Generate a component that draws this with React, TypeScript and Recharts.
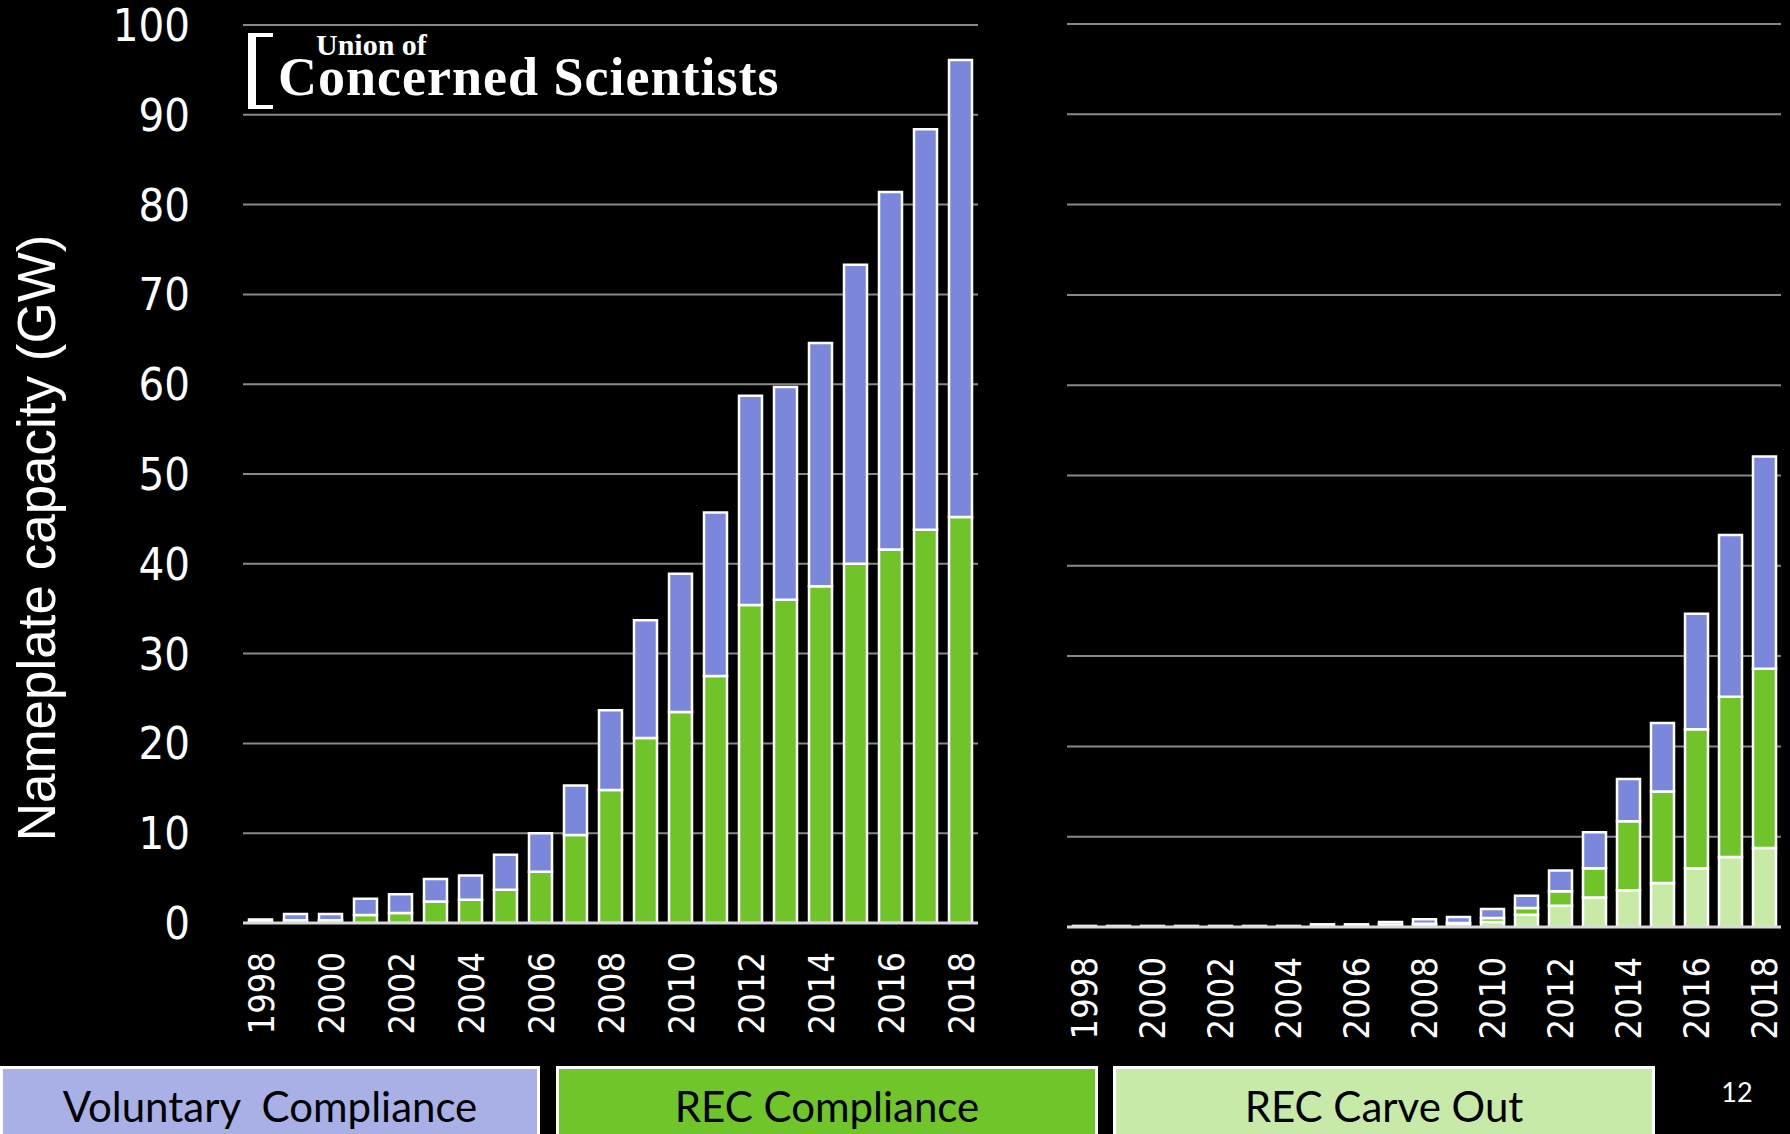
import React from 'react';
import { BarChart, Bar, XAxis, YAxis, CartesianGrid } from 'recharts';

// ---- data ----
const years = [1998, 1999, 2000, 2001, 2002, 2003, 2004, 2005, 2006, 2007, 2008, 2009, 2010, 2011, 2012, 2013, 2014, 2015, 2016, 2017, 2018];

// Left panel (GW)
const leftRecCompliance = [0.1, 0.3, 0.3, 0.9, 1.1, 2.4, 2.6, 3.7, 5.7, 9.8, 14.8, 20.6, 23.5, 27.5, 35.4, 36.0, 37.5, 40.0, 41.6, 43.8, 45.2];
const leftVoluntary = [0.3, 0.7, 0.7, 1.8, 2.1, 2.5, 2.7, 3.9, 4.3, 5.5, 8.9, 13.1, 15.4, 18.2, 23.3, 23.7, 27.1, 33.3, 39.8, 44.6, 50.9];

// Right panel (GW)
const rightCarveOut = [0, 0, 0, 0, 0, 0, 0, 0.1, 0.1, 0.25, 0.3, 0.35, 0.55, 1.37, 2.36, 3.28, 4.06, 4.87, 6.5, 7.75, 8.75];
const rightRecCompliance = [0, 0, 0, 0, 0, 0, 0, 0, 0, 0, 0.05, 0.1, 0.45, 0.73, 1.59, 3.22, 7.64, 10.13, 15.4, 17.75, 19.85];
const rightVoluntary = [0.12, 0.12, 0.12, 0.12, 0.12, 0.12, 0.12, 0.2, 0.2, 0.3, 0.5, 0.65, 1.0, 1.37, 2.32, 4.0, 4.7, 7.6, 12.8, 17.9, 23.5];

const yTicks = [0, 10, 20, 30, 40, 50, 60, 70, 80, 90, 100];
const yTitle = 'Nameplate capacity (GW)';
const legendLabels = ['Voluntary  Compliance', 'REC Compliance', 'REC Carve Out'];
const pageNumber = '12';

// ---- styles ----
const VOL = '#7b87db';
const REC = '#70c42a';
const CARVE = '#c7eaa7';
const LEG_VOL = '#a8b0e6';
const LEG_REC = '#6fc52a';
const LEG_CARVE = '#c8eaa8';
const TICK_FONT = "'DejaVu Sans Condensed', 'DejaVu Sans', sans-serif";
const TITLE_FONT = "'Liberation Sans', Arial, sans-serif";
const LEG_FONT = "Lato, 'Noto Sans', sans-serif";
const SERIF = "'Liberation Serif', 'DejaVu Serif', serif";

const leftData = years.map((y, i) => ({ year: y, rec: leftRecCompliance[i], vol: leftVoluntary[i] }));
const rightData = years.map((y, i) => ({ year: y, carve: rightCarveOut[i], rec: rightRecCompliance[i], vol: rightVoluntary[i] }));

const XTick = (props: any) => {
  const { x, y, payload } = props;
  return (
    <text
      x={x}
      y={y}
      dy={13}
      transform={`rotate(-90, ${x}, ${y})`}
      textAnchor="end"
      fill="#ffffff"
      fontSize={36}
      fontFamily={TICK_FONT}
      style={{ fontStretch: 'condensed' }}
    >
      {payload.value}
    </text>
  );
};

const YTick = (props: any) => {
  const { x, y, payload } = props;
  return (
    <text
      x={x}
      y={y}
      dy={16}
      textAnchor="end"
      fill="#ffffff"
      fontSize={45}
      fontFamily={TICK_FONT}
      style={{ fontStretch: 'condensed' }}
    >
      {payload.value}
    </text>
  );
};

const YTitle = () => (
  <text
    x={55}
    y={538}
    transform="rotate(-90, 55, 538)"
    textAnchor="middle"
    fill="#ffffff"
    fontSize={53}
    fontFamily={TITLE_FONT}
  >
    {yTitle}
  </text>
);

const barCommon = {
  stackId: 'a',
  stroke: '#ffffff',
  strokeWidth: 2.5,
  barSize: 23,
  isAnimationActive: false,
};

export default function App() {
  const legendBoxes = [
    { x: 1.5, w: 537, fill: LEG_VOL, label: legendLabels[0] },
    { x: 557.5, w: 539, fill: LEG_REC, label: legendLabels[1] },
    { x: 1114.5, w: 539, fill: LEG_CARVE, label: legendLabels[2] },
  ];
  return (
    <div style={{ position: 'absolute', left: 0, top: 0, width: 1790, height: 1134, background: '#000', overflow: 'hidden' }}>
      <div style={{ position: 'absolute', left: 0, top: 0 }}>
        <BarChart width={990} height={1043} data={leftData} margin={{ top: 25, right: 12, bottom: 0, left: 0 }}>
          <CartesianGrid vertical={false} stroke="#888888" strokeWidth={2} />
          <XAxis
            dataKey="year"
            interval={1}
            height={120}
            tickSize={0}
            tickMargin={29}
            tickLine={false}
            axisLine={{ stroke: '#d9d9d9', strokeWidth: 3 }}
            tick={<XTick />}
          />
          <YAxis
            domain={[0, 100]}
            ticks={yTicks}
            width={243}
            tickSize={0}
            tickMargin={53}
            tickLine={false}
            axisLine={false}
            tick={<YTick />}
            label={<YTitle />}
            allowDataOverflow
          />
          <Bar dataKey="rec" fill={REC} {...barCommon} />
          <Bar dataKey="vol" fill={VOL} {...barCommon} />
        </BarChart>
      </div>
      <div style={{ position: 'absolute', left: 1000, top: 0 }}>
        <BarChart width={790} height={1047} data={rightData} margin={{ top: 24, right: 9, bottom: 0, left: 67 }}>
          <CartesianGrid vertical={false} stroke="#888888" strokeWidth={2} />
          <XAxis
            dataKey="year"
            interval={1}
            height={120}
            tickSize={0}
            tickMargin={30}
            tickLine={false}
            axisLine={{ stroke: '#d9d9d9', strokeWidth: 3 }}
            tick={<XTick />}
          />
          <YAxis domain={[0, 100]} ticks={yTicks} hide allowDataOverflow />
          <Bar dataKey="carve" fill={CARVE} {...barCommon} />
          <Bar dataKey="rec" fill={REC} {...barCommon} />
          <Bar dataKey="vol" fill={VOL} {...barCommon} />
        </BarChart>
      </div>
      <svg width={1790} height={1134} style={{ position: 'absolute', left: 0, top: 0, pointerEvents: 'none' }}>
        {/* logo */}
        <path d="M248 33 H273 V37 H256 V105 H273 V109 H248 Z" fill="#ffffff" />
        <text x={316} y={55} fill="#ffffff" fontSize={30} fontWeight="bold" fontFamily={SERIF}>Union of</text>
        <text x={278} y={95} fill="#ffffff" fontSize={54} fontWeight="bold" fontFamily={SERIF} letterSpacing={1}>Concerned Scientists</text>
        {/* legend */}
        {legendBoxes.map((b) => (
          <g key={b.label}>
            <rect x={b.x} y={1067.5} width={b.w} height={70} fill={b.fill} stroke="#ffffff" strokeWidth={3} />
            <text
              x={b.x + b.w / 2}
              y={1122}
              textAnchor="middle"
              fill="#000000"
              fontSize={42}
              fontFamily={LEG_FONT}
              style={{ whiteSpace: 'pre' }}
            >
              {b.label}
            </text>
          </g>
        ))}
        <text x={1737} y={1102} textAnchor="middle" fill="#ffffff" fontSize={27} fontFamily={LEG_FONT}>{pageNumber}</text>
      </svg>
    </div>
  );
}
